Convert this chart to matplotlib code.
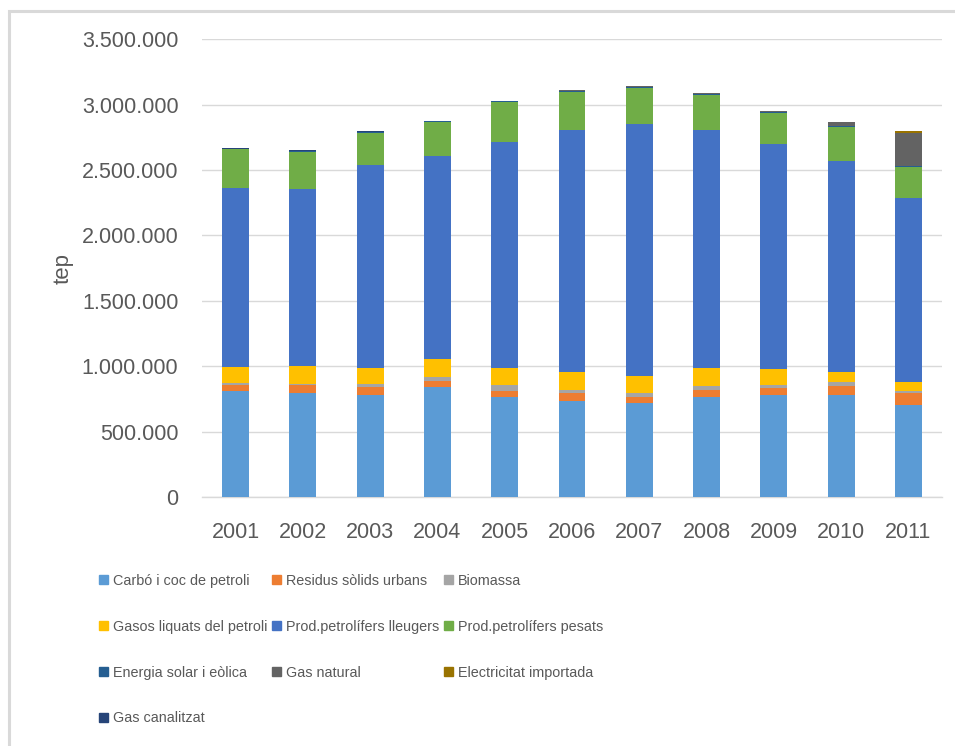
import matplotlib
matplotlib.use("Agg")
import matplotlib.pyplot as plt
import numpy as np
from matplotlib.patches import Patch, Rectangle
from matplotlib.ticker import FuncFormatter, MultipleLocator

plt.rcParams["font.family"] = ["Liberation Sans", "DejaVu Sans"]

years = ["2001", "2002", "2003", "2004", "2005", "2006", "2007", "2008", "2009", "2010", "2011"]

carbo = [807000, 797000, 777000, 838000, 767000, 736000, 716000, 767000, 777000, 777000, 700000]
residus = [52000, 57000, 61000, 51000, 46000, 61000, 51000, 54000, 59000, 74000, 97000]
biomassa = [15000, 8000, 23000, 31000, 41000, 23000, 31000, 31000, 23000, 31000, 15000]
glp = [123000, 136000, 128000, 138000, 135000, 138000, 130000, 138000, 123000, 77000, 69000]
lleugers = [1364000, 1356000, 1549000, 1549000, 1725000, 1848000, 1924000, 1817000, 1717000, 1610000, 1404000]
pesats = [299000, 284000, 245000, 260000, 307000, 291000, 276000, 268000, 237000, 261000, 237000]
solar = [4000, 8000, 8000, 5000, 5000, 8000, 5000, 8000, 8000, 8000, 8000]
gas_natural = [0, 0, 0, 0, 0, 7000, 12000, 8000, 8000, 30000, 253000]
electricitat = [0, 0, 0, 0, 0, 0, 0, 0, 0, 0, 15000]
gas_canalitzat = [4000, 8000, 7000, 3000, 2000, 0, 0, 0, 0, 0, 0]

series = [
    ("Carbó i coc de petroli", carbo, "#5B9BD5"),
    ("Residus sòlids urbans", residus, "#ED7D31"),
    ("Biomassa", biomassa, "#A5A5A5"),
    ("Gasos liquats del petroli", glp, "#FFC000"),
    ("Prod.petrolífers lleugers", lleugers, "#4472C4"),
    ("Prod.petrolífers pesats", pesats, "#70AD47"),
    ("Energia solar i eòlica", solar, "#255E91"),
    ("Gas natural", gas_natural, "#636363"),
    ("Electricitat importada", electricitat, "#997300"),
    ("Gas canalitzat", gas_canalitzat, "#264478"),
]

W, H = 955, 746
fig = plt.figure(figsize=(W / 100, H / 100), dpi=100)
ax = fig.add_axes([202 / W, 1 - 497 / H, 740 / W, (497 - 39.3) / H])

x = np.arange(len(years))
bottom = np.zeros(len(years))
for name, vals, color in series:
    ax.bar(x, vals, 0.40, bottom=bottom, color=color, label=name, zorder=3)
    bottom += np.array(vals)

ax.set_xlim(-0.5, len(years) - 0.5)
ax.set_ylim(0, 3500000)
ax.yaxis.set_major_locator(MultipleLocator(500000))
ax.yaxis.set_major_formatter(FuncFormatter(lambda v, p: f"{v:,.0f}".replace(",", ".")))
ax.grid(axis="y", color="#D9D9D9", linewidth=1.0, zorder=0)
for s in ["top", "right", "left"]:
    ax.spines[s].set_visible(False)
ax.spines["bottom"].set_color("#D9D9D9")
ax.spines["bottom"].set_linewidth(1.0)
ax.set_xticks(x)
ax.set_xticklabels(years)
ax.tick_params(axis="both", length=0, labelsize=15.5, labelcolor="#595959")
ax.tick_params(axis="y", pad=17)
ax.tick_params(axis="x", pad=18)
ax.set_ylabel("tep", fontsize=16, color="#595959")
ax.yaxis.set_label_coords(-0.174, 0.5)

# legend ordered row-wise like the original (matplotlib fills columns first)
handles = [Patch(color=c) for _, _, c in series]
labels = [n for n, _, _ in series]
order = [0, 3, 6, 9, 1, 4, 7, 2, 5, 8]
fig.legend(
    [handles[i] for i in order],
    [labels[i] for i in order],
    ncol=3,
    loc="upper left",
    bbox_to_anchor=(99 / W, 1 - 574 / H),
    frameon=False,
    borderpad=0,
    borderaxespad=0,
    handlelength=0.6,
    handleheight=0.6,
    handletextpad=0.35,
    columnspacing=0.35,
    labelspacing=2.2,
    prop={"size": 10.4},
    labelcolor="#595959",
)

fig.add_artist(Rectangle((9 / W, -0.05), 1.1, 1 - 10.5 / H + 0.05,
                         transform=fig.transFigure, fill=False,
                         edgecolor="#D9D9D9", linewidth=2.2))

fig.savefig("out.png", dpi=100)
